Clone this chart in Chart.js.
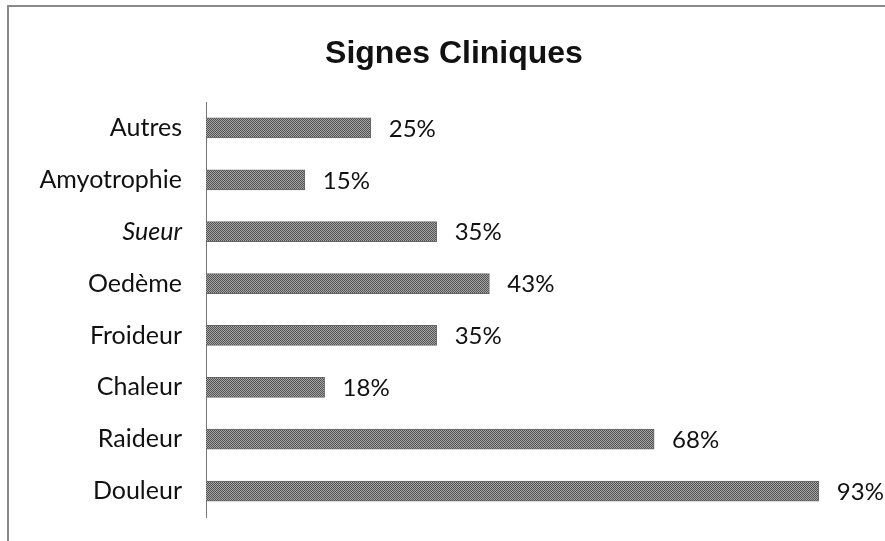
<!DOCTYPE html>
<html>
<head>
<meta charset="utf-8">
<script src="https://cdn.jsdelivr.net/npm/chart.js@4.4.1/dist/chart.umd.min.js"></script>
<style>
    html, body { margin: 0; padding: 0; background: #fff; }
    #wrap { position: relative; width: 885px; height: 541px; overflow: hidden; }
    #frame {
        position: absolute; left: 7px; top: 5px; width: 890px; height: 560px;
        border-left: 2px solid #8a8a8a; border-top: 2px solid #8a8a8a;
    }
    #chart { position: absolute; left: 0; top: 0; }
</style>
</head>
<body>
<div id="wrap">
    <div id="frame"></div>
    <canvas id="chart" width="885" height="541"></canvas>
</div>
<script>
const categories = ['Autres', 'Amyotrophie', 'Sueur', 'Oedème', 'Froideur', 'Chaleur', 'Raideur', 'Douleur'];
const percents = [25, 15, 35, 43, 35, 18, 68, 93];
const xMin = 0;
const xMax = 100;
const chartTitle = 'Signes Cliniques';

// grey dither like the scanned bars
function ditherPattern() {
    const c = document.createElement('canvas');
    c.width = 4; c.height = 4;
    const g = c.getContext('2d');
    g.fillStyle = '#a2a2a2';
    g.fillRect(0, 0, 4, 4);
    g.fillStyle = '#555';
    for (let y = 0; y < 4; y++) {
        for (let x = 0; x < 4; x++) {
            if ((x + y) % 2 === 0) g.fillRect(x, y, 1, 1);
        }
    }
    return g.createPattern(c, 'repeat');
}

// title is centred on the frame, not on the canvas
const frameTitle = {
    id: 'frameTitle',
    afterDraw(chart) {
        const ctx = chart.ctx;
        ctx.save();
        ctx.font = 'bold 32px "Liberation Sans"';
        ctx.fillStyle = '#111';
        ctx.textAlign = 'center';
        ctx.textBaseline = 'middle';
        ctx.fillText(chartTitle, 454, 54);
        ctx.restore();
    }
};

const valueLabels = {
    id: 'valueLabels',
    afterDatasetsDraw(chart) {
        const ctx = chart.ctx;
        const meta = chart.getDatasetMeta(0);
        ctx.save();
        ctx.font = '24px Lato';
        ctx.fillStyle = '#111';
        ctx.textAlign = 'left';
        ctx.textBaseline = 'middle';
        meta.data.forEach((bar, i) => {
            ctx.fillText(percents[i] + '%', bar.x + 18, bar.y + 1);
        });
        ctx.restore();
    }
};

const ctx = document.getElementById('chart').getContext('2d');

new Chart(ctx, {
    type: 'bar',
    data: {
        labels: categories,
        datasets: [{
            data: percents,
            backgroundColor: ditherPattern(),
            borderColor: '#666',
            borderWidth: 1,
            borderSkipped: 'start',
            barThickness: 20
        }]
    },
    options: {
        indexAxis: 'y',
        responsive: false,
        animation: false,
        layout: { padding: { top: 102, right: 20, bottom: 24, left: 0 } },
        plugins: {
            legend: { display: false },
            tooltip: { enabled: false },
            title: { display: false }
        },
        scales: {
            x: {
                display: false,
                min: xMin,
                max: xMax
            },
            y: {
                grid: { display: false, drawTicks: false },
                border: { display: true, color: '#777', width: 1 },
                afterFit: s => {
                    s.width = 206;
                    s.paddingTop = 0;
                    s.paddingBottom = 0;
                },
                ticks: {
                    padding: 24,
                    color: '#111',
                    font: c => ({
                        family: 'Lato',
                        size: 25,
                        style: categories[c.index] === 'Sueur' ? 'italic' : 'normal'
                    })
                }
            }
        }
    },
    plugins: [valueLabels, frameTitle]
});
</script>
</body>
</html>
